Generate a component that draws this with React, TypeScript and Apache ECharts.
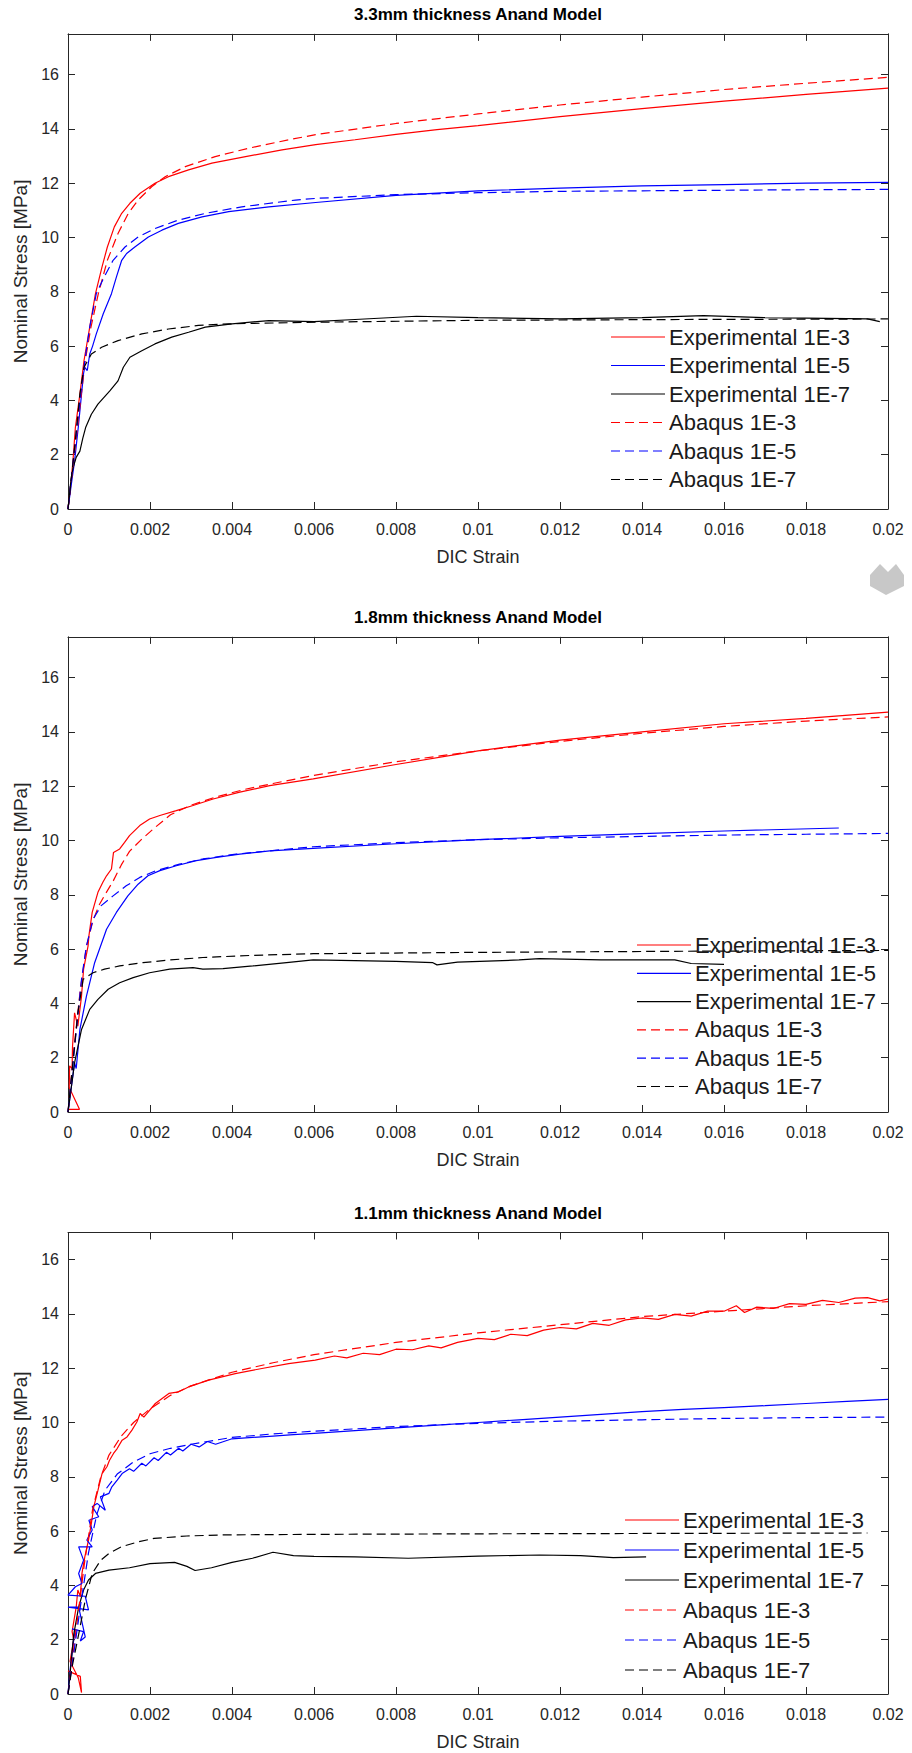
import React, { useEffect, useRef } from 'react';
import * as echarts from 'echarts';

// ---------- tick labels ----------
const xTickLabels = ['0', '0.002', '0.004', '0.006', '0.008', '0.01', '0.012', '0.014', '0.016', '0.018', '0.02'];
const yTickLabels = ['0', '2', '4', '6', '8', '10', '12', '14', '16'];

// ---------- categories ----------
const chartTitles = ['3.3mm thickness Anand Model', '1.8mm thickness Anand Model', '1.1mm thickness Anand Model'];
const seriesNames = ['Experimental 1E-3', 'Experimental 1E-5', 'Experimental 1E-7', 'Abaqus 1E-3', 'Abaqus 1E-5', 'Abaqus 1E-7'];
const seriesColors = ['#ff0000', '#0000ff', '#000000', '#ff0000', '#0000ff', '#000000'];
const seriesDashed = [false, false, false, true, true, true];

// ---------- 3.3 mm ----------
const exp1e3_t33 = [[0,0],[0.00006,0.8],[0.00012,1.76],[0.00018,3.0],[0.00029,4.23],[0.00039,5.46],[0.00053,6.7],[0.00067,7.93],[0.00083,8.92],[0.00096,9.65],[0.00113,10.39],[0.00131,10.89],[0.00151,11.26],[0.00176,11.63],[0.00212,12.0],[0.00245,12.24],[0.00294,12.49],[0.00351,12.74],[0.00433,12.98],[0.00522,13.23],[0.00604,13.42],[0.007,13.6],[0.008,13.8],[0.009,13.97],[0.01,14.12],[0.012,14.45],[0.014,14.75],[0.016,15.02],[0.018,15.27],[0.02,15.5]];
const exp1e5_t33 = [[0,0],[0.00008,0.9],[0.00016,1.76],[0.00025,3.0],[0.00033,4.23],[0.00038,5.0],[0.00041,5.22],[0.00047,5.1],[0.00053,5.71],[0.0006,6.0],[0.00069,6.45],[0.00086,7.19],[0.00106,7.93],[0.00118,8.54],[0.00131,9.16],[0.00143,9.41],[0.00163,9.65],[0.00196,10.02],[0.00229,10.27],[0.00269,10.52],[0.00327,10.76],[0.00392,10.95],[0.0049,11.13],[0.00604,11.29],[0.008,11.55],[0.01,11.72],[0.012,11.82],[0.014,11.9],[0.016,11.95],[0.018,12.0],[0.02,12.03]];
const exp1e7_t33 = [[0,0],[0.00006,0.9],[0.00012,1.5],[0.0002,1.9],[0.00029,2.13],[0.00036,2.6],[0.00043,3.0],[0.00057,3.49],[0.00073,3.86],[0.00102,4.35],[0.00122,4.72],[0.00135,5.22],[0.00151,5.59],[0.0018,5.83],[0.00212,6.08],[0.00253,6.33],[0.00294,6.51],[0.00335,6.7],[0.004,6.82],[0.0049,6.94],[0.006,6.9],[0.007,6.98],[0.0085,7.1],[0.01,7.05],[0.012,7.0],[0.014,7.05],[0.0155,7.12],[0.017,7.05],[0.0195,7.0],[0.0198,6.9]];
const abq1e3_t33 = [[0,0],[0.0002,2.6],[0.00042,5.46],[0.00056,6.7],[0.00074,7.93],[0.00096,9.16],[0.00122,10.15],[0.00147,10.89],[0.00171,11.38],[0.00204,11.87],[0.00237,12.24],[0.00286,12.61],[0.00359,12.98],[0.00441,13.29],[0.00539,13.6],[0.00604,13.79],[0.008,14.2],[0.01,14.55],[0.012,14.88],[0.014,15.17],[0.016,15.45],[0.018,15.68],[0.02,15.9]];
const abq1e5_t33 = [[0,0],[0.00015,2.1],[0.00031,4.23],[0.00041,5.46],[0.00053,6.7],[0.00069,7.93],[0.00088,8.54],[0.0011,9.16],[0.00139,9.65],[0.00171,10.02],[0.00212,10.33],[0.00269,10.64],[0.00335,10.89],[0.00424,11.13],[0.00555,11.38],[0.00604,11.44],[0.008,11.58],[0.01,11.65],[0.012,11.7],[0.014,11.72],[0.016,11.74],[0.018,11.76],[0.02,11.77]];
const abq1e7_t33 = [[0,0],[0.00015,2.1],[0.00029,4.23],[0.00039,5.22],[0.00057,5.71],[0.00082,5.96],[0.00122,6.2],[0.0018,6.45],[0.00245,6.63],[0.00318,6.76],[0.00392,6.82],[0.00604,6.88],[0.01,6.95],[0.015,6.98],[0.02,7.0]];

// ---------- 1.8 mm ----------
const exp1e3_t18 = [[0,0.1],[0.00028,0.1],[0.00003,0.9],[0.00004,1.7],[0.0001,1.6],[0.00011,2.4],[0.00016,3.65],[0.00024,3.16],[0.00033,4.27],[0.00038,5.26],[0.00049,6.12],[0.00051,6.49],[0.00059,7.35],[0.00073,8.09],[0.00085,8.46],[0.00094,8.7],[0.00106,8.95],[0.00111,9.56],[0.00126,9.69],[0.00138,9.93],[0.0015,10.18],[0.00175,10.55],[0.00199,10.79],[0.00224,10.92],[0.00264,11.1],[0.00305,11.29],[0.00354,11.53],[0.00419,11.78],[0.00492,12.02],[0.00598,12.27],[0.008,12.8],[0.01,13.3],[0.012,13.7],[0.014,14.0],[0.016,14.3],[0.018,14.5],[0.02,14.73]];
const exp1e5_t18 = [[0,0],[0.00016,1.81],[0.0002,1.6],[0.00029,3.04],[0.00045,4.27],[0.00065,5.5],[0.00094,6.73],[0.00118,7.35],[0.00146,7.96],[0.00171,8.39],[0.00195,8.7],[0.00224,8.89],[0.00264,9.07],[0.00313,9.26],[0.00362,9.38],[0.00419,9.5],[0.00492,9.62],[0.00598,9.71],[0.008,9.88],[0.01,10.03],[0.012,10.15],[0.014,10.25],[0.016,10.35],[0.0188,10.46]];
const exp1e7_t18 = [[0,0],[0.00016,1.81],[0.00033,3.04],[0.00053,3.78],[0.00073,4.15],[0.00098,4.52],[0.00126,4.76],[0.00159,4.95],[0.00199,5.13],[0.00248,5.26],[0.00305,5.32],[0.00329,5.26],[0.00378,5.28],[0.00451,5.38],[0.00533,5.5],[0.00598,5.6],[0.008,5.55],[0.0089,5.5],[0.009,5.42],[0.0095,5.52],[0.011,5.6],[0.0115,5.65],[0.013,5.6],[0.0148,5.6],[0.0152,5.47],[0.016,5.44]];
const abq1e3_t18 = [[0,0],[0.00015,2.4],[0.0003,4.5],[0.00045,6.1],[0.0006,7.0],[0.00075,7.6],[0.0009,8.0],[0.0011,8.5],[0.0013,9.1],[0.0015,9.6],[0.0018,10.05],[0.0021,10.45],[0.0025,10.95],[0.003,11.3],[0.0036,11.6],[0.0043,11.88],[0.005,12.1],[0.006,12.4],[0.008,12.9],[0.01,13.3],[0.012,13.65],[0.014,13.95],[0.016,14.2],[0.018,14.4],[0.02,14.55]];
const abq1e5_t18 = [[0,0],[0.00033,4.89],[0.00045,6.12],[0.00061,7.1],[0.00081,7.6],[0.0011,7.96],[0.00142,8.33],[0.00175,8.64],[0.00215,8.89],[0.00272,9.13],[0.00329,9.32],[0.0041,9.5],[0.00492,9.62],[0.00598,9.77],[0.008,9.92],[0.01,10.03],[0.012,10.1],[0.014,10.15],[0.016,10.2],[0.018,10.23],[0.02,10.26]];
const abq1e7_t18 = [[0,0],[0.00024,3.65],[0.00037,4.89],[0.00061,5.13],[0.00089,5.26],[0.00126,5.38],[0.00183,5.5],[0.00248,5.6],[0.00329,5.69],[0.00451,5.77],[0.00598,5.83],[0.01,5.88],[0.015,5.92],[0.02,5.95]];

// ---------- 1.1 mm ----------
const exp1e3_t11 = [[0,0.85],[0.0003,0.65],[0.00033,0.05],[0.00025,0.6],[0.00005,1.2],[0.00014,2.0],[0.0001,2.3],[0.0002,3.2],[0.00024,3.83],[0.0003,3.6],[0.00034,4.44],[0.00041,5.05],[0.0005,5.67],[0.00057,6.28],[0.00063,6.9],[0.00073,7.5],[0.00083,8.12],[0.00095,8.37],[0.00101,8.6],[0.00111,8.86],[0.0012,9.04],[0.00132,9.35],[0.00144,9.47],[0.00156,9.72],[0.00168,10.02],[0.00176,10.33],[0.00185,10.2],[0.00213,10.7],[0.00246,11.07],[0.0027,11.13],[0.00294,11.31],[0.00343,11.56],[0.00408,11.8],[0.00473,11.99],[0.00538,12.17],[0.00603,12.3],[0.0065,12.45],[0.0068,12.38],[0.0072,12.55],[0.0076,12.5],[0.008,12.7],[0.0084,12.68],[0.0088,12.82],[0.0091,12.75],[0.0095,12.95],[0.01,13.1],[0.0104,13.05],[0.0108,13.25],[0.0112,13.2],[0.0116,13.4],[0.012,13.5],[0.0124,13.45],[0.0128,13.65],[0.0132,13.58],[0.0136,13.78],[0.014,13.85],[0.0144,13.8],[0.0148,13.98],[0.0152,13.92],[0.0156,14.1],[0.016,14.1],[0.0163,14.3],[0.0165,14.05],[0.0168,14.25],[0.0172,14.2],[0.0176,14.38],[0.018,14.35],[0.0184,14.5],[0.0188,14.42],[0.0192,14.58],[0.0195,14.6],[0.0198,14.48],[0.02,14.55]];
const exp1e5_t11 = [[0,0],[0.00006,1.0],[0.00014,2.0],[0.00018,2.36],[0.0001,2.4],[0.00038,2.3],[0.0003,1.95],[0.00042,2.1],[0.00026,3.2],[0,3.2],[0.0005,3.1],[0.00042,3.6],[0,3.64],[0.00018,3.95],[0.00034,4.07],[0.00026,4.44],[0.00038,4.93],[0.00026,5.42],[0.00059,5.42],[0.00046,5.67],[0.00059,6.04],[0.00051,6.4],[0.00075,6.53],[0.00059,6.9],[0.00071,7.02],[0.00091,6.77],[0.00079,7.26],[0.001,7.39],[0.00107,7.63],[0.0012,7.88],[0.00132,8.12],[0.0015,8.3],[0.0016,8.2],[0.0018,8.5],[0.0019,8.4],[0.0021,8.7],[0.0022,8.6],[0.0024,8.9],[0.0025,8.8],[0.0027,9.05],[0.0028,8.95],[0.003,9.2],[0.0032,9.1],[0.0034,9.3],[0.0036,9.2],[0.004,9.4],[0.0045,9.45],[0.005,9.5],[0.0055,9.55],[0.006,9.6],[0.007,9.7],[0.008,9.8],[0.009,9.9],[0.01,10.0],[0.011,10.1],[0.012,10.2],[0.013,10.3],[0.014,10.4],[0.015,10.48],[0.016,10.55],[0.017,10.62],[0.018,10.7],[0.019,10.78],[0.02,10.85]];
const exp1e7_t11 = [[0,0],[0.00006,0.9],[0.00014,2.2],[0.00026,3.2],[0.00038,3.83],[0.0005,4.2],[0.00067,4.44],[0.001,4.56],[0.0015,4.65],[0.002,4.8],[0.0026,4.85],[0.0029,4.7],[0.0031,4.55],[0.0035,4.65],[0.004,4.85],[0.0045,5.0],[0.005,5.22],[0.0055,5.1],[0.006,5.07],[0.007,5.05],[0.0083,5.0],[0.01,5.08],[0.0115,5.12],[0.0125,5.1],[0.0133,5.02],[0.0141,5.05]];
const abq1e3_t11 = [[0,0],[0.0002,2.4],[0.0004,4.8],[0.0006,6.8],[0.0008,8.0],[0.001,8.8],[0.0013,9.5],[0.0016,10.0],[0.002,10.5],[0.0025,11.0],[0.003,11.35],[0.004,11.85],[0.005,12.2],[0.006,12.5],[0.008,12.95],[0.01,13.3],[0.012,13.6],[0.014,13.9],[0.016,14.1],[0.018,14.3],[0.02,14.45]];
const abq1e5_t11 = [[0,0],[0.0003,3.2],[0.0005,5.2],[0.0007,6.6],[0.0009,7.5],[0.0012,8.1],[0.0016,8.55],[0.002,8.85],[0.0025,9.05],[0.003,9.2],[0.004,9.45],[0.005,9.58],[0.006,9.68],[0.008,9.85],[0.01,9.97],[0.012,10.05],[0.014,10.1],[0.016,10.15],[0.018,10.18],[0.02,10.2]];
const abq1e7_t11 = [[0,0],[0.0001,1.0],[0.00026,2.2],[0.00042,3.46],[0.00059,4.44],[0.0008,4.93],[0.001,5.18],[0.0013,5.42],[0.0017,5.6],[0.0021,5.73],[0.0029,5.82],[0.0038,5.86],[0.006,5.88],[0.01,5.9],[0.0195,5.93]];

const chartData = [
  [exp1e3_t33, exp1e5_t33, exp1e7_t33, abq1e3_t33, abq1e5_t33, abq1e7_t33],
  [exp1e3_t18, exp1e5_t18, exp1e7_t18, abq1e3_t18, abq1e5_t18, abq1e7_t18],
  [exp1e3_t11, exp1e5_t11, exp1e7_t11, abq1e3_t11, abq1e5_t11, abq1e7_t11],
];

// ---------- layout ----------
const FONT = "'Liberation Sans', Arial, Helvetica, sans-serif";
const AX = '#262626';
const GRID_LEFT = 68;
const GRID_W = 820;
const PX_PER_UNIT = 27.15;
const gridBottoms = [509, 1112, 1694];
const yMaxes = [17.5, 17.5, 17];
const legendLefts = [611, 637, 625];
const legendFirstCenters = [337, 945, 1520];
const legendSpacings = [28.5, 28.3, 30];
const LEG_FONT = 22;
const LEG_LINE = 54;
const DASH = [9, 5];

function buildOption() {
  const grid: any[] = [];
  const xAxis: any[] = [];
  const yAxis: any[] = [];
  const series: any[] = [];
  const graphic: any[] = [];

  gridBottoms.forEach((bottom, i) => {
    const h = yMaxes[i] * PX_PER_UNIT;
    const top = bottom - h;
    grid.push({ left: GRID_LEFT, top, width: GRID_W, height: h, containLabel: false });
    const baseX = {
      type: 'value', gridIndex: i, min: 0, max: 0.02, interval: 0.002,
      splitLine: { show: false },
      axisLine: { show: true, onZero: false, lineStyle: { color: AX, width: 1 } },
      axisTick: { show: true, inside: true, length: 7, lineStyle: { color: AX } },
    };
    xAxis.push({
      ...baseX, position: 'bottom',
      name: 'DIC Strain', nameLocation: 'middle', nameGap: 39,
      nameTextStyle: { fontFamily: FONT, fontSize: 18, color: AX },
      axisLabel: {
        show: true, margin: 12, fontFamily: FONT, fontSize: 16, color: AX,
        formatter: (v: number) => xTickLabels[Math.round(v / 0.002)] ?? '',
      },
    });
    xAxis.push({ ...baseX, position: 'top', axisLabel: { show: false } });
    const baseY = {
      type: 'value', gridIndex: i, min: 0, max: yMaxes[i], interval: 2,
      splitLine: { show: false },
      axisLine: { show: true, onZero: false, lineStyle: { color: AX, width: 1 } },
      axisTick: { show: true, inside: true, length: 7, lineStyle: { color: AX } },
    };
    yAxis.push({
      ...baseY, position: 'left',
      name: 'Nominal Stress [MPa]', nameLocation: 'middle', nameGap: 36,
      nameTextStyle: { fontFamily: FONT, fontSize: 19, color: AX },
      axisLabel: {
        show: true, margin: 9, fontFamily: FONT, fontSize: 16, color: AX, showMaxLabel: false,
        formatter: (v: number) => (v > 16.5 ? '' : yTickLabels[Math.round(v / 2)] ?? ''),
      },
    });
    yAxis.push({ ...baseY, position: 'right', axisLabel: { show: false } });

    chartData[i].forEach((data, k) => {
      series.push({
        type: 'line', name: seriesNames[k], xAxisIndex: i * 2, yAxisIndex: i * 2,
        data, symbol: 'none', showSymbol: false, smooth: false, clip: true,
        lineStyle: { color: seriesColors[k], width: 1.2, type: seriesDashed[k] ? DASH : 'solid' },
        itemStyle: { color: seriesColors[k] },
        emphasis: { disabled: true },
        z: 2 + k,
      });
    });

    // legend drawn as line samples + text
    seriesNames.forEach((name, k) => {
      const cy = legendFirstCenters[i] + k * legendSpacings[i];
      const x0 = legendLefts[i];
      graphic.push({
        type: 'line', z: 50,
        shape: { x1: x0, y1: cy, x2: x0 + LEG_LINE, y2: cy },
        style: { stroke: seriesColors[k], lineWidth: 1.2, lineDash: seriesDashed[k] ? DASH : null },
      });
      graphic.push({
        type: 'text', z: 50, x: x0 + LEG_LINE + 4, y: cy,
        style: {
          text: name, font: `${LEG_FONT}px ${FONT}`, fill: '#1a1a1a',
          align: 'left', verticalAlign: 'middle', textAlign: 'left', textVerticalAlign: 'middle',
        },
      });
    });

    graphic.push({
      type: 'text', x: GRID_LEFT + GRID_W / 2, y: top - 19,
      style: {
        text: chartTitles[i], font: `bold 17px ${FONT}`, fill: '#000',
        align: 'center', verticalAlign: 'middle', textAlign: 'center', textVerticalAlign: 'middle',
      },
    });
  });

  graphic.push({
    type: 'polygon',
    shape: { points: [[870, 575], [880, 564], [888, 572], [896, 564], [904, 575], [904, 586], [886, 595], [870, 586]] },
    style: { fill: '#c8c8c8' },
  });

  return {
    animation: false,
    backgroundColor: '#ffffff',
    textStyle: { fontFamily: FONT },
    grid, xAxis, yAxis, series, graphic,
  };
}

export default function App() {
  const ref = useRef<HTMLDivElement>(null);
  useEffect(() => {
    if (!ref.current) return;
    const chart = echarts.init(ref.current, null, { renderer: 'svg' });
    chart.setOption(buildOption() as any);
    return () => chart.dispose();
  }, []);
  return (
    <div
      ref={ref}
      style={{ position: 'absolute', left: 0, top: 0, width: 912, height: 1753, background: '#fff' }}
    />
  );
}
